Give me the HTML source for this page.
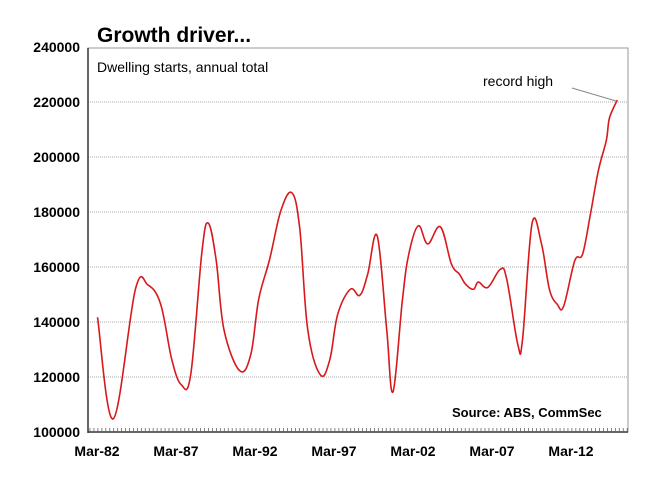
<!DOCTYPE html>
<html><head><meta charset="utf-8"><style>
body{margin:0;background:#fff;}
svg{display:block;font-family:"Liberation Sans",Arial,sans-serif;}
</style></head><body>
<svg id="chart" width="668" height="480">
<text x="97" y="42" font-size="21" font-weight="bold" fill="#000">Growth driver...</text>
<g id="grid"></g>
<rect x="88" y="48" width="540" height="384" fill="none" stroke="#999" stroke-width="1"/>
<line x1="88" y1="48" x2="88" y2="433" stroke="#333" stroke-width="1.5"/>
<line x1="88" y1="432" x2="628" y2="432" stroke="#333" stroke-width="1.5"/>
<g id="ticks"></g>
<g id="series"></g>
<text x="97" y="72" font-size="14" fill="#000">Dwelling starts, annual total</text>
<text x="483" y="86" font-size="14" fill="#000">record high</text>
<line x1="572" y1="88" x2="616" y2="101" stroke="#888" stroke-width="1"/>
<text x="452" y="417" font-size="13" font-weight="bold" fill="#000">Source: ABS, CommSec</text>
</svg>
<script>
const yTicks=[100000,120000,140000,160000,180000,200000,220000,240000];
const xTickYears=[1982,1987,1992,1997,2002,2007,2012];
const xTickLabels=["Mar-82","Mar-87","Mar-92","Mar-97","Mar-02","Mar-07","Mar-12"];
const years=[1982.2,1983.2,1984.6,1985.4,1986.2,1986.9,1987.5,1988.1,1988.8,1989.2,1989.7,1990.2,1991.2,1991.9,1992.4,1993.1,1993.8,1994.5,1995.0,1995.5,1996.3,1996.9,1997.4,1998.2,1998.8,1999.3,1999.9,2000.5,2000.9,2001.5,2001.9,2002.5,2003.1,2003.9,2004.6,2005.1,2005.5,2006.0,2006.3,2006.9,2007.7,2008.1,2008.8,2009.1,2009.7,2010.3,2010.8,2011.3,2011.7,2012.4,2012.9,2013.4,2013.9,2014.4,2014.6,2015.1];
const starts=[141700,104800,151900,153400,146400,126300,117200,120800,165100,176000,162900,137300,122300,128200,148300,162900,180400,187000,173900,137300,120800,126300,142800,151900,149700,157400,171300,137300,114600,148300,164700,175000,168400,174600,161100,157400,153700,151900,154500,152600,159200,155600,131800,133600,175700,168400,151900,146400,145700,162200,164700,179300,195100,206000,214100,220700];
const NS="http://www.w3.org/2000/svg";
const X0=88,X1=628,Y0=432,Y1=48;
function yScale(v){return Y0-(v-100000)/140000*(Y0-Y1+1);}
function xScale(yr){return 97+(yr-2/12-1982)*15.8;}
const grid=document.getElementById('grid'),ticks=document.getElementById('ticks'),series=document.getElementById('series');
yTicks.forEach(v=>{
  const y=yScale(v);
  if(v>100000&&v<240000){
    const l=document.createElementNS(NS,'line');
    l.setAttribute('x1',X0);l.setAttribute('x2',X1);l.setAttribute('y1',y);l.setAttribute('y2',y);
    l.setAttribute('stroke','#aaa');l.setAttribute('stroke-dasharray','1,1');
    
    
    grid.appendChild(l);
  }
  const t=document.createElementNS(NS,'text');
  t.setAttribute('x',80);t.setAttribute('y',y+5);t.setAttribute('text-anchor','end');
  t.setAttribute('font-size','14');t.setAttribute('font-weight','bold');
  t.textContent=v;
  
  
  ticks.appendChild(t);
});
for(let q=0;q<=136;q++){
  const x=X0+2+q*3.95;
  if(x>X1)break;
  const l=document.createElementNS(NS,'line');
  l.setAttribute('x1',x);l.setAttribute('x2',x);l.setAttribute('y1',Y0);l.setAttribute('y2',Y0-4);
  l.setAttribute('stroke','#666');l.setAttribute('stroke-width','0.8');
  
  
  ticks.appendChild(l);
}
xTickYears.forEach((yr,i)=>{
  const t=document.createElementNS(NS,'text');
  t.setAttribute('x',xScale(yr+2/12));t.setAttribute('y',456);t.setAttribute('text-anchor','middle');
  t.setAttribute('font-size','14');t.setAttribute('font-weight','bold');
  t.textContent=xTickLabels[i];
  
  
  ticks.appendChild(t);
});
const pts=years.map((yr,i)=>[xScale(yr),yScale(starts[i])]);
let d='M'+pts[0][0].toFixed(1)+','+pts[0][1].toFixed(1);
const k=0.18;
for(let i=0;i<pts.length-1;i++){
  const p0=pts[Math.max(0,i-1)],p1=pts[i],p2=pts[i+1],p3=pts[Math.min(pts.length-1,i+2)];
  const c1=[p1[0]+(p2[0]-p0[0])*k,p1[1]+(p2[1]-p0[1])*k];
  const c2=[p2[0]-(p3[0]-p1[0])*k,p2[1]-(p3[1]-p1[1])*k];
  d+=' C'+c1[0].toFixed(1)+','+c1[1].toFixed(1)+' '+c2[0].toFixed(1)+','+c2[1].toFixed(1)+' '+p2[0].toFixed(1)+','+p2[1].toFixed(1);
}
const p=document.createElementNS(NS,'path');
p.setAttribute('d',d);
p.setAttribute('fill','none');p.setAttribute('stroke','#d7191c');p.setAttribute('stroke-width','1.6');p.setAttribute('stroke-linejoin','round');


series.appendChild(p);
</script>
</body></html>
